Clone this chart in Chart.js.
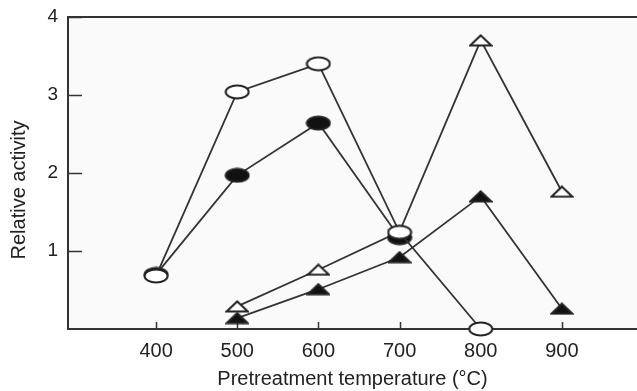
<!DOCTYPE html>
<html>
<head>
<meta charset="utf-8">
<script src="https://cdn.jsdelivr.net/npm/chart.js@4/dist/chart.umd.min.js"></script>
<style>
    html, body { margin: 0; padding: 0; background: #fff; overflow: hidden; }
    #wrap { width: 637px; height: 391px; position: relative; }
    canvas { display: block; }
</style>
</head>
<body>
<div id="wrap"><canvas id="chart"></canvas></div>
<script>
const temps = [400, 500, 600, 700, 800, 900];
const xTicks = [400, 500, 600, 700, 800, 900];
const yTicks = [1, 2, 3, 4];

// open circles, filled circles, open triangles, filled triangles
const openCircle = [0.68, 3.04, 3.4, 1.24, 0, null];
const filledCircle = [0.7, 1.97, 2.64, 1.17, null, null];
const openTriangle = [null, 0.29, 0.76, 1.25, 3.7, 1.76];
const filledTriangle = [null, 0.14, 0.51, 0.92, 1.7, 0.26];

const lineColor = "#333";
const fontFamily = "'Liberation Sans', Arial, sans-serif";

function makeMarker(shape, filled) {
    const c = document.createElement("canvas");
    const w = shape == "ellipse" ? 26 : 24;
    const h = shape == "ellipse" ? 16 : 13;
    c.width = w;
    c.height = h;
    const ctx = c.getContext("2d");
    ctx.lineWidth = 2;
    ctx.strokeStyle = "#222";
    ctx.fillStyle = filled ? "#111" : "#fff";
    ctx.beginPath();
    if (shape == "ellipse") {
        ctx.ellipse(w / 2, h / 2, w / 2 - 1.5, h / 2 - 1.5, 0, 0, Math.PI * 2);
    } else {
        ctx.moveTo(w / 2, 1.5);
        ctx.lineTo(w - 1.5, h - 1.5);
        ctx.lineTo(1.5, h - 1.5);
        ctx.closePath();
    }
    ctx.fill();
    ctx.stroke();
    return c;
}

function toPoints(arr) {
    return temps.map((t, i) => ({ x: t, y: arr[i] })).filter((p) => p.y !== null);
}

function series(arr, marker) {
    return {
        data: toPoints(arr),
        borderColor: lineColor,
        borderWidth: 1.8,
        pointStyle: marker,
        pointRadius: 10,
        clip: false,
        tension: 0,
    };
}

const frame = {
    id: "frame",
    beforeDatasetsDraw(chart) {
        const { ctx, chartArea: a, scales } = chart;
        ctx.save();
        ctx.fillStyle = "#fafafa";
        ctx.fillRect(a.left, a.top, a.right - a.left, a.bottom - a.top);
        ctx.strokeStyle = "#333";
        ctx.lineWidth = 2;
        ctx.beginPath();
        ctx.moveTo(a.right, a.top);
        ctx.lineTo(a.left, a.top);
        ctx.lineTo(a.left, a.bottom);
        ctx.lineTo(a.right, a.bottom);
        ctx.stroke();
        ctx.lineWidth = 1.5;
        ctx.beginPath();
        yTicks.forEach((v) => {
            const y = Math.round(scales.y.getPixelForValue(v)) + 0.5;
            ctx.moveTo(a.left, y);
            ctx.lineTo(a.left + 14, y);
        });
        xTicks.forEach((v) => {
            const x = Math.round(scales.x.getPixelForValue(v)) + 0.5;
            ctx.moveTo(x, a.bottom);
            ctx.lineTo(x, a.bottom - 7);
        });
        ctx.stroke();
        ctx.restore();
    },
    afterDraw(chart) {
        const { ctx, chartArea: a } = chart;
        ctx.save();
        ctx.fillStyle = "#222";
        ctx.font = "20px " + fontFamily;
        ctx.textAlign = "center";
        ctx.textBaseline = "middle";
        ctx.fillText("Pretreatment temperature (°C)", (a.left + a.right) / 2, 379);
        ctx.translate(19, 190);
        ctx.rotate(-Math.PI / 2);
        ctx.fillText("Relative activity", 0, 0);
        ctx.restore();
    },
};

new Chart(document.getElementById("chart"), {
    type: "line",
    data: {
        datasets: [
            series(openCircle, makeMarker("ellipse", false)),
            series(filledCircle, makeMarker("ellipse", true)),
            series(openTriangle, makeMarker("triangle", false)),
            series(filledTriangle, makeMarker("triangle", true)),
        ],
    },
    options: {
        responsive: true,
        maintainAspectRatio: false,
        animation: false,
        layout: { autoPadding: false, padding: { top: 17, right: 0, left: 0, bottom: 0 } },
        plugins: { legend: { display: false }, tooltip: { enabled: false } },
        scales: {
            x: {
                type: "linear",
                min: 291.5,
                max: 992.5,
                afterBuildTicks: (s) => { s.ticks = xTicks.map((v) => ({ value: v })); },
                afterFit: (s) => {
                    s.height = 62;
                    s.paddingLeft = 0;
                    s.paddingRight = 0;
                },
                grid: { display: false },
                border: { display: false },
                ticks: {
                    color: "#222",
                    padding: 2,
                    font: { family: fontFamily, size: 20 },
                },
            },
            y: {
                min: 0,
                max: 4,
                afterBuildTicks: (s) => { s.ticks = yTicks.map((v) => ({ value: v })); },
                afterFit: (s) => {
                    s.width = 68;
                    s.paddingTop = 0;
                    s.paddingBottom = 0;
                },
                grid: { display: false },
                border: { display: false },
                ticks: {
                    color: "#222",
                    padding: 2,
                    font: { family: fontFamily, size: 19 },
                },
            },
        },
    },
    plugins: [frame],
});
</script>
</body>
</html>
